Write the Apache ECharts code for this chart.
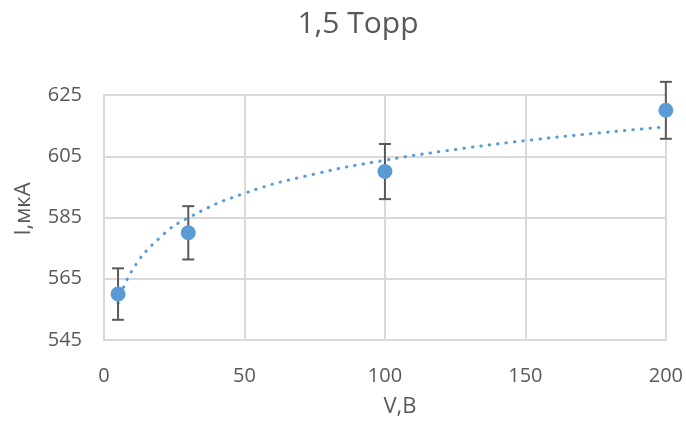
<!DOCTYPE html>
<html><head><meta charset="utf-8">
<script src="https://cdn.jsdelivr.net/npm/echarts@6/dist/echarts.min.js"></script>
<style>html,body{margin:0;padding:0;background:#fff}#c{width:686px;height:424px}</style>
</head><body><div id="c"></div>
<script>
// Measured points
var voltages = [5, 30, 100, 200];
var currents = [560, 580, 600, 620];
var errors = [8.4, 8.7, 9.0, 9.3];
// Trendline (logarithmic)
var trendX = [5, 10, 20, 30, 50, 75, 100, 125, 150, 175, 200];
var trendY = [557.0, 567.7, 578.5, 584.9, 592.9, 599.2, 603.7, 607.2, 610.1, 612.5, 614.6];
var xTicks = [0, 50, 100, 150, 200];
var yTicks = [545, 565, 585, 605, 625];
var titleText = '1,5 Торр';
var xName = 'V,B';
var yName = 'I,мкА';

var pts = voltages.map(function(v,i){return [v, currents[i]];});
var errData = voltages.map(function(v,i){return [v, currents[i]-errors[i], currents[i]+errors[i]];});
var trend = trendX.map(function(v,i){return [v, trendY[i]];});

var txt = '#595959', grid = '#D9D9D9', font = 'Open Sans';
var chart = echarts.init(document.getElementById('c'), null, {renderer:'canvas'});
chart.setOption({
  animation: false,
  graphic: [
    {type: 'text', x: 358, y: 24, style: {text: titleText, fontFamily: font, fontSize: 30,
      fill: txt, align: 'center', verticalAlign: 'middle'}},
    {type: 'text', x: 400, y: 407, style: {text: xName, fontFamily: font, fontSize: 22,
      fill: txt, align: 'center', verticalAlign: 'middle'}},
    {type: 'text', x: 24, y: 209, rotation: Math.PI/2, style: {text: yName, fontFamily: font, fontSize: 22,
      fill: txt, align: 'center', verticalAlign: 'middle'}}
  ],
  grid: {left: 104, right: 18, top: 95, bottom: 84},
  xAxis: {type: 'value', min: xTicks[0], max: xTicks[xTicks.length-1], interval: 50,
    axisLine: {show: true, lineStyle: {color: grid, width: 2}},
    axisTick: {show: false},
    axisLabel: {fontFamily: font, fontSize: 20, color: txt, margin: 26},
    splitLine: {show: true, lineStyle: {color: grid, width: 2}}},
  yAxis: {type: 'value', min: yTicks[0], max: yTicks[yTicks.length-1], interval: 20,
    axisLine: {show: true, lineStyle: {color: grid, width: 2}},
    axisTick: {show: false},
    axisLabel: {fontFamily: font, fontSize: 20, color: txt, margin: 22},
    splitLine: {show: true, lineStyle: {color: grid, width: 2}}},
  series: [
    {type: 'line', data: trend, smooth: true, showSymbol: false, z: 2,
      lineStyle: {color: '#5B9BD5', width: 3, type: [0.5, 8], cap: 'round'}},
    {type: 'custom', data: errData, z: 3,
      renderItem: function(params, api){
        var x = api.value(0);
        var lo = api.coord([x, api.value(1)]);
        var hi = api.coord([x, api.value(2)]);
        var w = 6;
        var st = {stroke: '#595959', lineWidth: 2};
        return {type: 'group', children: [
          {type: 'line', shape: {x1: lo[0], y1: lo[1], x2: hi[0], y2: hi[1]}, style: st},
          {type: 'line', shape: {x1: lo[0]-w, y1: lo[1], x2: lo[0]+w, y2: lo[1]}, style: st},
          {type: 'line', shape: {x1: hi[0]-w, y1: hi[1], x2: hi[0]+w, y2: hi[1]}, style: st}
        ]};
      }},
    {type: 'scatter', data: pts, symbolSize: 15, z: 4,
      itemStyle: {color: '#5B9BD5', opacity: 1}}
  ]
});
</script></body></html>
